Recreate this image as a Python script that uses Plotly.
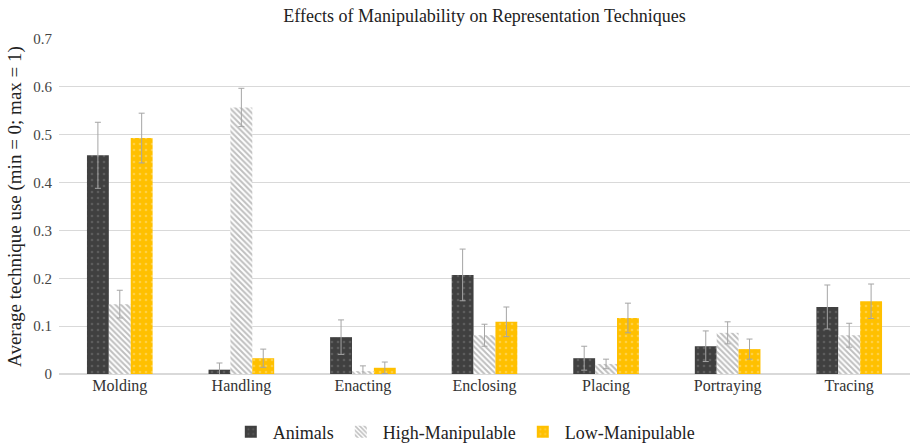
import plotly.graph_objects as go

categories = ["Molding", "Handling", "Enacting", "Enclosing", "Placing", "Portraying", "Tracing"]
animals = [0.457, 0.009, 0.077, 0.207, 0.033, 0.058, 0.140]
animals_err = [0.069, 0.014, 0.036, 0.054, 0.025, 0.032, 0.046]
high = [0.146, 0.557, 0.006, 0.081, 0.021, 0.086, 0.081]
high_err = [0.029, 0.040, 0.011, 0.023, 0.010, 0.023, 0.025]
low = [0.493, 0.033, 0.013, 0.109, 0.117, 0.052, 0.152]
low_err = [0.052, 0.019, 0.012, 0.031, 0.031, 0.021, 0.036]

font = "Liberation Serif"
err_style = dict(type="data", thickness=1, width=3, color="#A5A5A5")

fig = go.Figure()
fig.add_bar(
    name="Animals", x=categories, y=animals,
    error_y=dict(array=animals_err, **err_style),
    marker=dict(color="#404040", line=dict(width=0),
                pattern=dict(shape=".", fgcolor="#7a7a7a", bgcolor="#404040", size=6, solidity=0.15)),
)
fig.add_bar(
    name="High-Manipulable", x=categories, y=high,
    error_y=dict(array=high_err, **err_style),
    marker=dict(color="#ffffff", line=dict(width=0),
                pattern=dict(shape="\\", fgcolor="#808080", bgcolor="#ffffff", size=4, solidity=0.5)),
)
fig.add_bar(
    name="Low-Manipulable", x=categories, y=low,
    error_y=dict(array=low_err, **err_style),
    marker=dict(color="#FFC000", line=dict(width=0),
                pattern=dict(shape=".", fgcolor="#ffe08a", bgcolor="#FFC000", size=6, solidity=0.15)),
)

fig.update_layout(
    width=914, height=443,
    paper_bgcolor="white", plot_bgcolor="white",
    font=dict(family=font, color="#222222"),
    title=dict(text="Effects of Manipulability on Representation Techniques",
               x=0.5, xanchor="center", xref="paper", y=0.965, yanchor="middle",
               font=dict(family=font, size=18, color="#222222")),
    barmode="group", bargap=0.46, bargroupgap=0,
    margin=dict(l=59, r=4, t=39, b=69, autoexpand=False),
    legend=dict(orientation="h", x=0.508, xanchor="center", xref="container",
                y=0.025, yanchor="middle", yref="container",
                font=dict(family=font, size=18, color="#222222"), itemwidth=34,
                traceorder="normal"),
    xaxis=dict(showgrid=False, showline=False, ticks="", automargin=False,
               tickfont=dict(family=font, size=16, color="#333333")),
    yaxis=dict(range=[0, 0.7], dtick=0.1, showgrid=True, gridcolor="#D9D9D9", gridwidth=1,
               zeroline=True, zerolinecolor="#D9D9D9", showline=False, ticks="",
               automargin=False, tickformat="~g", ticklabelstandoff=6,
               tickfont=dict(family=font, size=15, color="#444444"),
               title=dict(text="Average technique use (min = 0; max = 1)", standoff=6,
                          font=dict(family=font, size=19, color="#222222"))),
)

fig.write_html("out.html", config={"displayModeBar": False},
               post_script="document.body.style.margin='0px';document.body.style.overflow='hidden';")
